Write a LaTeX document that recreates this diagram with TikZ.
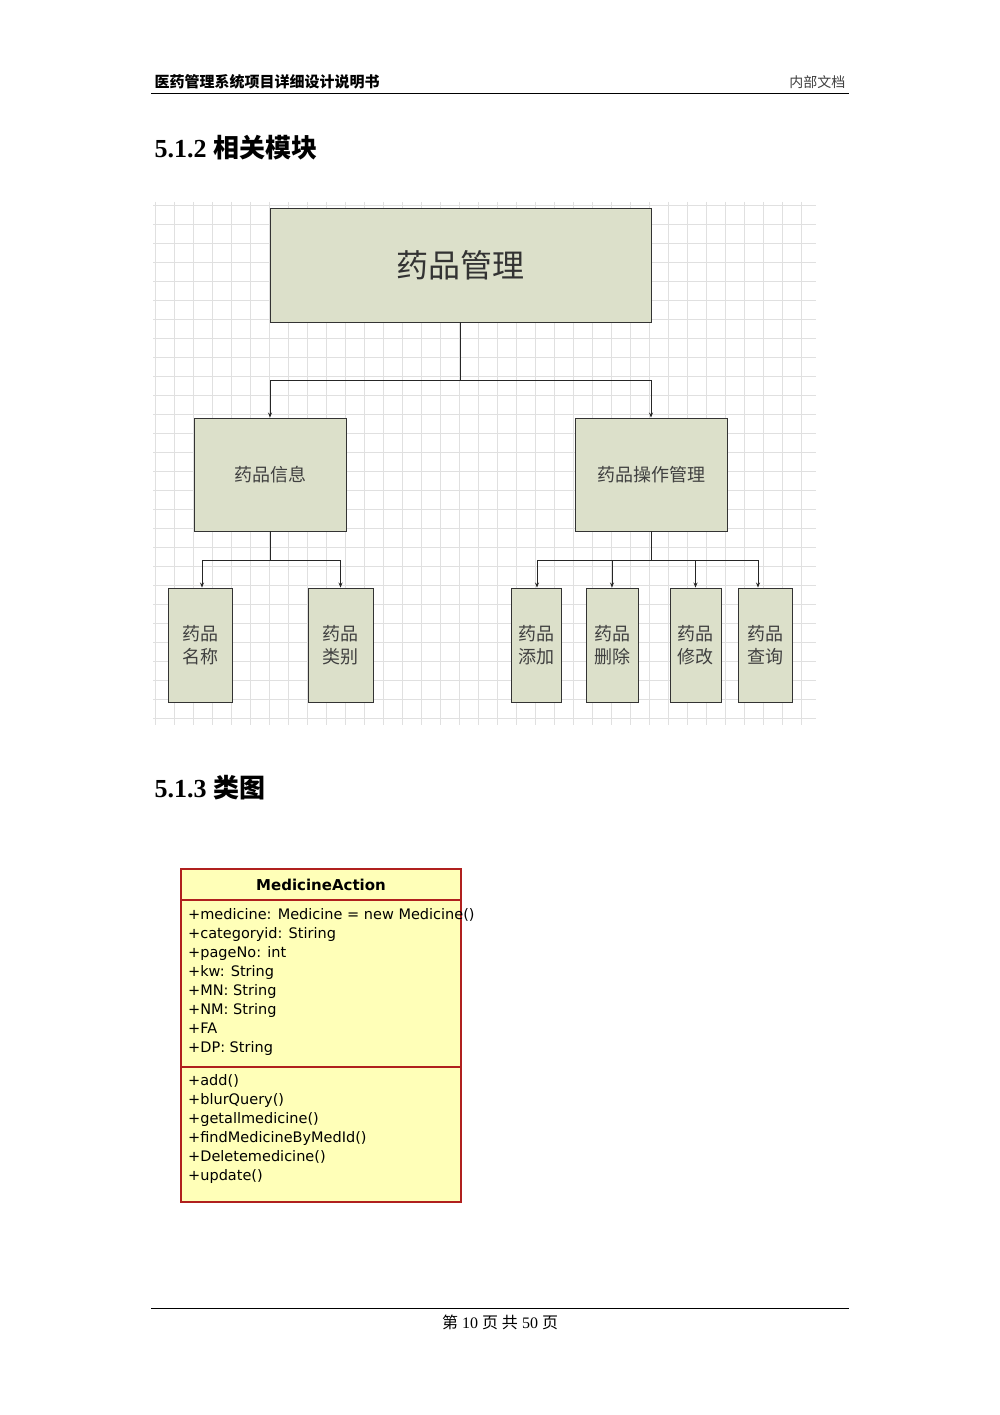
\documentclass[tikz,border=0pt]{standalone}
\usepackage{fontspec}
\setmainfont{Liberation Serif}
\newfontfamily\cjk{Noto Sans CJK SC}
\newfontfamily\umlf{DejaVu Sans}
\usetikzlibrary{arrows.meta}
\definecolor{boxg}{HTML}{DCE0CA}
\definecolor{umly}{HTML}{FFFFB8}
\definecolor{umlr}{HTML}{B0201E}
\begin{document}
\begin{tikzpicture}[x=1pt,y=-1pt,
  mbox/.style={draw=black!80,fill=boxg,line width=0.9pt,inner sep=0pt},
  conn/.style={draw=black!85,line width=0.8pt},
  arr/.style={conn,-{Stealth[length=5pt,width=4pt]}}]
\useasboundingbox[fill=white] (0,0) rectangle (1000,1415);
% header
\node[anchor=base west,font=\cjk\bfseries\fontsize{15}{15}\selectfont] (hl) at (151,88) {医药管理系统项目详细设计说明书};
\node[anchor=base east,font=\cjk\fontsize{14}{14}\selectfont,text=black!75] (hr) at (849,88) {内部文档};
\draw[line width=0.9pt] (151,93) -- (849,93);
\node[anchor=base west,font=\fontsize{26}{26}\selectfont\bfseries] (t1) at (151,158) {5.1.2 {\cjk 相关模块}};
% grid
\draw[black!12,line width=0.6pt] (153,205) -- (816,205);
\foreach \i in {0,...,27} {\draw[black!12,line width=0.6pt] (153,205+19*\i) -- (816,205+19*\i);}
\foreach \i in {0,...,34} {\draw[black!12,line width=0.6pt] (155+19*\i,202) -- (155+19*\i,725);}
% boxes
\node[mbox,minimum width=381,minimum height=114,font=\cjk\fontsize{32}{32}\selectfont,text=black!80] (top) at (460.5,265) {药品管理};
\node[mbox,minimum width=152,minimum height=113,font=\cjk\fontsize{18}{18}\selectfont,text=black!75] (info) at (270,474.5) {药品信息};
\node[mbox,minimum width=152,minimum height=113,font=\cjk\fontsize{18}{18}\selectfont,text=black!75] (oper) at (651,474.5) {药品操作管理};
\tikzset{leaf/.style={mbox,minimum height=114,font=\cjk\fontsize{18}{23}\selectfont,text=black!75,align=center}}
\node[leaf,minimum width=64] (l1) at (200,645) {药品\\名称};
\node[leaf,minimum width=65] (l2) at (340.5,645) {药品\\类别};
\node[leaf,minimum width=50] (l3) at (536,645) {药品\\添加};
\node[leaf,minimum width=52] (l4) at (612,645) {药品\\删除};
\node[leaf,minimum width=51] (l5) at (695.5,645) {药品\\修改};
\node[leaf,minimum width=54] (l6) at (765,645) {药品\\查询};
% connectors
\coordinate (j0) at (460.5,380);
\draw[conn] (top.south) -- (j0);
\draw[arr] (j0) -| (info.north);
\draw[arr] (j0) -| (oper.north);
\coordinate (j1) at (270,560);
\draw[conn] (info.south) -- (j1);
\draw[arr] (j1) -| ([xshift=2pt]l1.north);
\draw[arr] (j1) -| (l2.north);
\coordinate (j2) at (651,560);
\draw[conn] (oper.south) -- (j2);
\draw[arr] (j2) -| ([xshift=1pt]l3.north);
\draw[arr] (j2) -| (l4.north);
\draw[arr] (j2) -| (l5.north);
\draw[arr] (j2) -| ([xshift=-7pt]l6.north);
% 5.1.3
\node[anchor=base west,font=\fontsize{26}{26}\selectfont\bfseries] (t2) at (151,797) {5.1.3 {\cjk 类图}};
% UML
\draw[umlr,fill=umly,line width=1.2pt] (181,869) rectangle (461,1202);
\draw[umlr,line width=1.2pt] (181,900) -- (461,900);
\draw[umlr,line width=1.2pt] (181,1067) -- (461,1067);
\node[font=\umlf\bfseries\fontsize{15}{15}\selectfont] (cn) at (321,885) {MedicineAction};
\node[anchor=north west,align=left,inner sep=0pt,font=\umlf\fontsize{14.5}{19}\selectfont] (attrs) at (188,908)
 {+medicine: Medicine = new Medicine()\\+categoryid: Stiring\\+pageNo: int\\+kw: String\\+MN: String\\+NM: String\\+FA\\+DP: String};
\node[anchor=north west,align=left,inner sep=0pt,font=\umlf\fontsize{14.5}{19}\selectfont] (ops) at (188,1074)
 {+add()\\+blurQuery()\\+getallmedicine()\\+findMedicineByMedId()\\+Deletemedicine()\\+update()};
% footer
\draw[line width=0.8pt] (151,1308) -- (849,1308);
\node[font=\fontsize{16}{16}\selectfont] (ft) at (500,1322) {{\cjk 第} 10 {\cjk 页} {\cjk 共} 50 {\cjk 页}};
\end{tikzpicture}
\end{document}
